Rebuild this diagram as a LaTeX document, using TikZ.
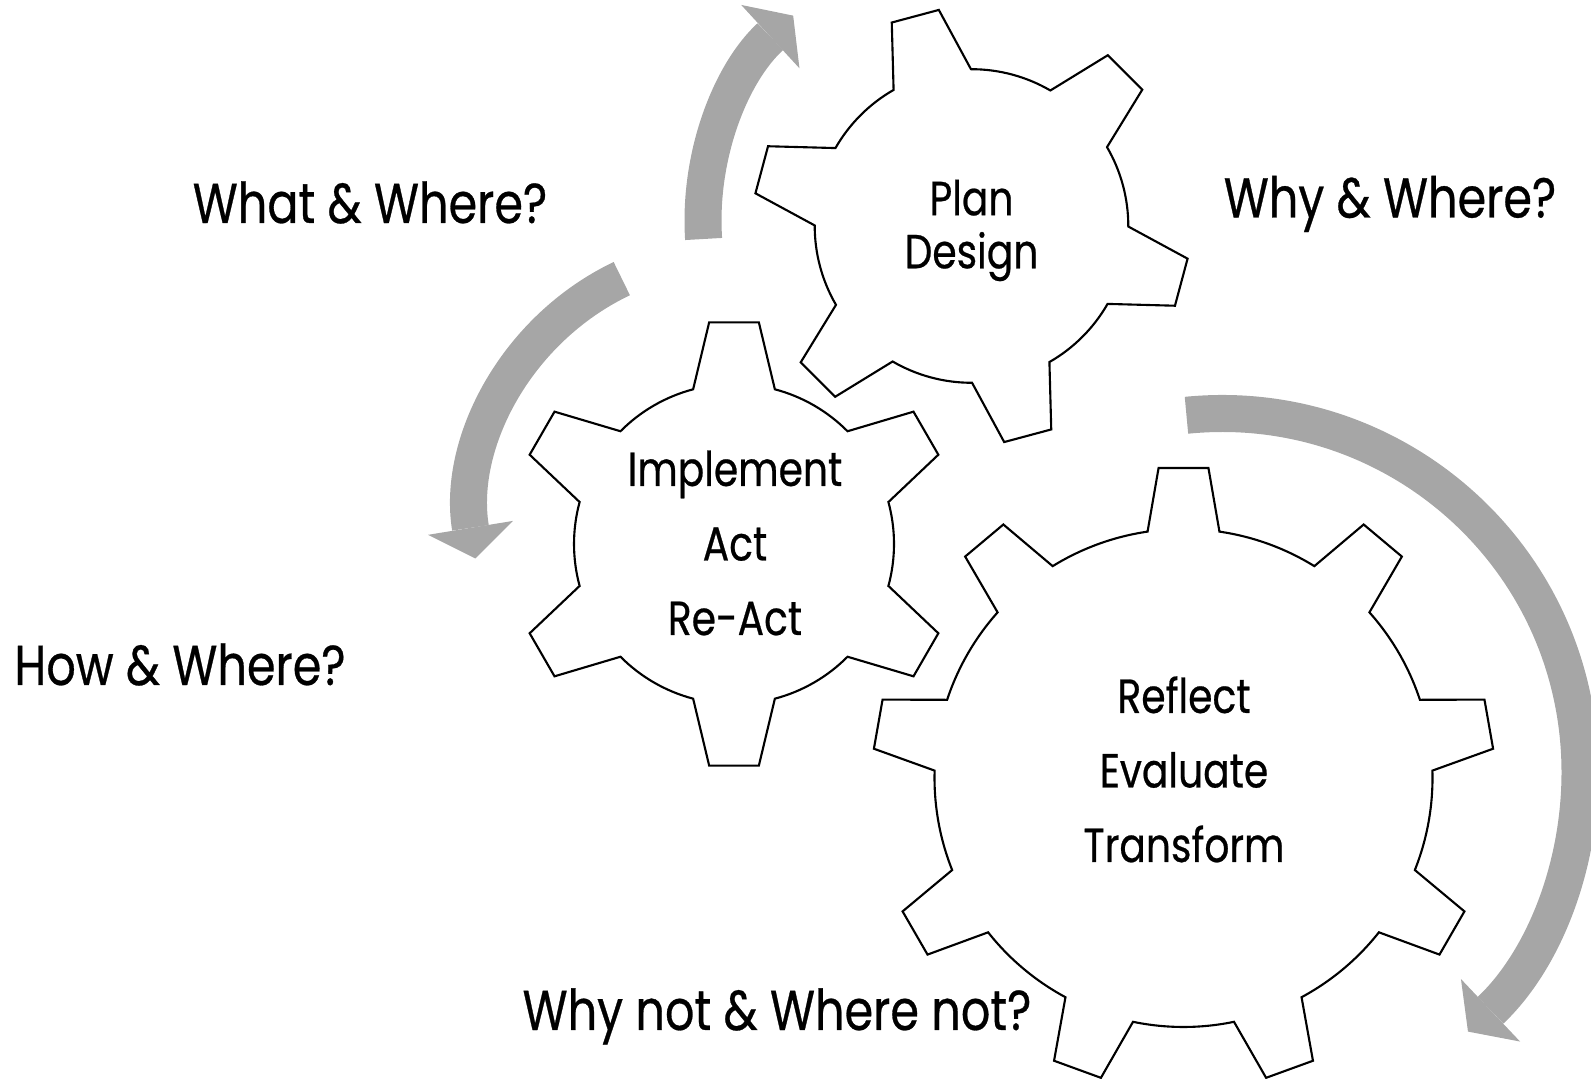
\documentclass[tikz,border=0pt]{standalone}
\usepackage{fontspec}
\setmainfont{Poppins}[FakeStretch=0.82, FakeBold=0.5]
\usetikzlibrary{arrows.meta}
\definecolor{Ink}{HTML}{000000}
\definecolor{TurnGray}{HTML}{A6A6A6}
\tikzset{
  cog/.style={draw=Ink, line width=0.6pt, fill=white},
  turnarrow/.style={draw=TurnGray, line width=0.37cm,
    -{Triangle[width=0.86cm, length=0.31cm, line width=0pt]}},
  cogtext/.style={align=center, anchor=base, text=Ink,
    font=\fontsize{13.6pt}{21.2pt}\selectfont},
  question/.style={anchor=base, text=Ink,
    font=\fontsize{16pt}{20pt}\selectfont}
}
% #1 teeth, #2 root radius, #3 tip radius, #4 root half angle, #5 tip half angle
\newcommand{\cogwheel}[5]{%
  \pgfmathsetmacro{\cogstep}{360/#1}%
  \draw[cog] (90+#4:#2)
    \foreach \k in {1,...,#1}{
      arc[start angle={90+(\k-1)*\cogstep+#4}, end angle={90+\k*\cogstep-#4}, radius=#2]
      -- ({90+\k*\cogstep-#5}:#3) -- ({90+\k*\cogstep+#5}:#3)
      -- ({90+\k*\cogstep+#4}:#2)
    } -- cycle;
}

\begin{document}
\begin{tikzpicture}[x=0.01cm, y=0.01cm]
  \useasboundingbox (0,0) rectangle (1591,1079);
  \clip (0,0) rectangle (1591,1079);

  \coordinate (planhub) at (971.5,853);
  \coordinate (acthub) at (734,535);
  \coordinate (reflecthub) at (1183.5,301);
  \coordinate (topturn) at (982,858);
  \coordinate (leftturn) at (735,563);
  \coordinate (rightturn) at (1222,307.5);

  \draw[turnarrow] (topturn) ++(183.7:279) arc[start angle=183.7, end angle=132.6, radius=279];
  \draw[turnarrow] (leftturn) ++(115.5:263) arc[start angle=115.5, end angle=189.3, radius=263];
  \draw[turnarrow] (rightturn) ++(95.7:358) arc[start angle=95.7, end angle=-46.6, radius=358];

  \begin{scope}[shift={(planhub)}, rotate=15, scale=0.98]
    \cogwheel{6}{160}{223}{14.8}{6.4}
  \end{scope}
  \begin{scope}[shift={(acthub)}]
    \cogwheel{6}{160}{223}{14.8}{6.4}
  \end{scope}
  \begin{scope}[shift={(reflecthub)}]
    \cogwheel{9}{249}{311}{8.3}{4.6}
  \end{scope}

  \node[cogtext, font=\fontsize{13.6pt}{15.1pt}\selectfont] (plan) at (971.5,810.7) {Plan\\Design};
  \node[cogtext] (act) at (735,444) {Implement\\Act\\Re-Act};
  \node[cogtext] (reflect) at (1184,217) {Reflect\\Evaluate\\Transform};

  \node[question] (what) at (370,856) {What \& Where?};
  \node[question] (why) at (1390,861.5) {Why \& Where?};
  \node[question] (how) at (180,394) {How \& Where?};
  \node[question] (whynot) at (777,49) {Why not \& Where not?};
\end{tikzpicture}
\end{document}
